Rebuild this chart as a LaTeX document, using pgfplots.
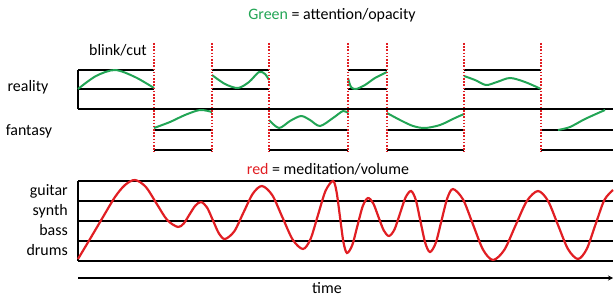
\documentclass[border=0pt]{standalone}
\usepackage{pgfplots}
\pgfplotsset{compat=1.18}
\usepackage{fontspec}
\setmainfont{Carlito}
\usetikzlibrary{arrows.meta}
\definecolor{gr}{RGB}{34,165,85}
\definecolor{rd}{RGB}{225,30,35}
\begin{document}
\begin{tikzpicture}
\begin{axis}[width=614bp,height=297bp,scale only axis,
  xmin=0,xmax=614,ymin=0,ymax=297,y dir=reverse,hide axis,clip=false,
  bl/.style={black,line width=2pt,no markers},
  gc/.style={gr,line width=2pt,smooth,no markers},
  rdl/.style={rd,line width=2pt,no markers,dash pattern=on 1.6pt off 1.6pt}]
% ---- reality / fantasy frame
\addplot[bl] coordinates {(78,70) (78,109)};
\addplot[bl] coordinates {(78,109) (613,109)};
% reality segments (top 70, mid 89)
\addplot[bl] coordinates {(78,70) (154,70)};
\addplot[bl] coordinates {(78,89) (154,89)};
\addplot[bl] coordinates {(212,70) (269,70)};
\addplot[bl] coordinates {(212,89) (269,89)};
\addplot[bl] coordinates {(348,70) (387,70)};
\addplot[bl] coordinates {(348,89) (387,89)};
\addplot[bl] coordinates {(464,70) (541,70)};
\addplot[bl] coordinates {(464,89) (541,89)};
% fantasy segments (mid 130, bottom 150)
\addplot[bl] coordinates {(154,130) (212,130)};
\addplot[bl] coordinates {(154,150) (212,150)};
\addplot[bl] coordinates {(269,130) (348,130)};
\addplot[bl] coordinates {(269,150) (348,150)};
\addplot[bl] coordinates {(387,130) (464,130)};
\addplot[bl] coordinates {(387,150) (464,150)};
\addplot[bl] coordinates {(541,130) (613,130)};
\addplot[bl] coordinates {(541,150) (613,150)};
% green attention curves
\addplot[gc] coordinates {(78,89) (96,76) (115,70) (135,77) (154,88)};
\addplot[gc] coordinates {(154,128) (170,122) (185,115) (200,110) (212,112)};
\addplot[gc] coordinates {(212,75) (225,84) (238,88) (249,82) (259,72) (265,74) (269,80)};
\addplot[gc] coordinates {(269,120) (279,128) (290,121) (301,116) (310,120) (320,126) (333,118) (343,111) (348,113)};
\addplot[gc] coordinates {(348,78) (351,87) (356,89) (365,85) (375,78) (387,72)};
\addplot[gc] coordinates {(387,113) (400,120) (413,126) (425,128) (440,125) (455,118) (464,114)};
\addplot[gc] coordinates {(464,76) (475,80) (486,85) (497,82) (510,78) (525,82) (541,89)};
\addplot[gc] coordinates {(558,130) (570,127) (585,119) (605,110)};
% red dotted cuts
\addplot[rdl] coordinates {(154,43) (154,152)};
\addplot[rdl] coordinates {(212,43) (212,152)};
\addplot[rdl] coordinates {(269,43) (269,152)};
\addplot[rdl] coordinates {(348,43) (348,152)};
\addplot[rdl] coordinates {(387,43) (387,152)};
\addplot[rdl] coordinates {(464,43) (464,152)};
\addplot[rdl] coordinates {(541,43) (541,152)};
% ---- instrument staff
\addplot[bl] coordinates {(78,181) (78,261)};
\addplot[bl] coordinates {(78,181) (613,181)};
\addplot[bl] coordinates {(78,201) (613,201)};
\addplot[bl] coordinates {(78,221) (613,221)};
\addplot[bl] coordinates {(78,241) (613,241)};
\addplot[bl] coordinates {(78,261) (613,261)};
% red meditation curve
\addplot[rd,line width=2.2pt,smooth,no markers] coordinates {
(78,259) (90,239) (103,217) (115,197) (125,185) (135,180)
(145.8,186.9) (156.5,203.5) (167.3,220.1) (178,227)
(183.8,223.4) (189.5,214.5) (195.3,205.7) (201,202)
(207,207.4) (213,220.5) (219,233.6) (225,239)
(234.3,231.3) (243.5,212.5) (252.8,193.7) (262,186)
(272.3,195.2) (282.5,217.5) (292.8,239.8) (303,249)
(310.5,239.1) (318,215) (325.5,190.9) (333,181)
(336.5,191.5) (340,217) (343.5,242.5) (347,253)
(352.3,245) (357.5,225.5) (362.8,206) (368,198)
(373.3,203.5) (378.5,217) (383.8,230.5) (389,236)
(394.5,229.4) (400,213.5) (405.5,197.6) (411,191)
(415.8,199.9) (420.5,221.5) (425.3,243.1) (430,252)
(435.8,242.8) (441.5,220.5) (447.3,198.2) (453,189)
(463,199.4) (473,224.5) (483,249.6) (493,260)
(504.3,249.9) (515.5,225.5) (526.8,201.1) (538,191)
(548,200.9) (558,225) (568,249.1) (578,259)
(586.8,248.9) (595.5,224.5) (604.3,200.1) (613,190)};
% time arrow
\addplot[black,line width=1.2pt,no markers,-{Stealth[length=5pt,width=5pt]}] coordinates {(78,278) (613,278)};
% ---- texts
\begin{scope}[every node/.style={font=\fontsize{16}{19}\selectfont,inner sep=0pt}]
\node at (axis cs:332,15) {\textcolor{gr}{Green} = attention/opacity};
\node at (axis cs:118,50) {blink/cut};
\node at (axis cs:28,87) {reality};
\node at (axis cs:29,131) {fantasy};
\node at (axis cs:328,169) {\textcolor{rd}{red} = meditation/volume};
\node[anchor=east] at (axis cs:68,191) {guitar};
\node[anchor=east] at (axis cs:68,211) {synth};
\node[anchor=east] at (axis cs:68,230) {bass};
\node[anchor=east] at (axis cs:68,250) {drums};
\node at (axis cs:327,288) {time};
\end{scope}
\end{axis}
\pgfresetboundingbox
\useasboundingbox (current axis.south west) rectangle (current axis.north east);
\end{tikzpicture}
\end{document}
